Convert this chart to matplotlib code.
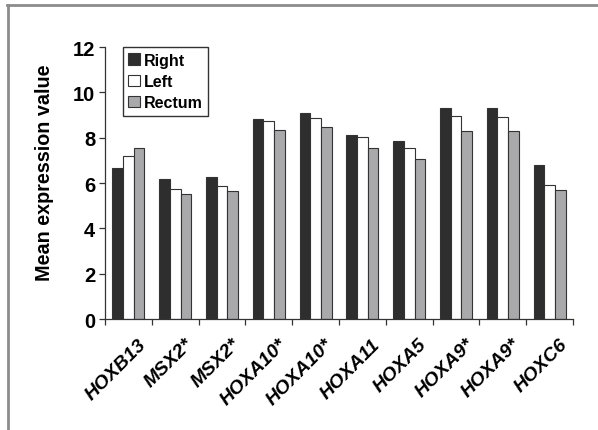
import matplotlib
matplotlib.use("Agg")
import matplotlib.pyplot as plt
from matplotlib.lines import Line2D
from matplotlib import transforms
import numpy as np

genes = ["HOXB13", "MSX2*", "MSX2*", "HOXA10*", "HOXA10*", "HOXA11",
         "HOXA5", "HOXA9*", "HOXA9*", "HOXC6"]
right = [6.66, 6.19, 6.26, 8.81, 9.09, 8.10, 7.85, 9.29, 9.29, 6.81]
left = [7.19, 5.75, 5.87, 8.75, 8.88, 8.02, 7.56, 8.94, 8.92, 5.90]
rectum = [7.53, 5.51, 5.66, 8.34, 8.49, 7.53, 7.06, 8.29, 8.31, 5.69]
series_names = ["Right", "Left", "Rectum"]
yticks = [0, 2, 4, 6, 8, 10, 12]

FONT = "Liberation Sans"
plt.rcParams["font.family"] = [FONT, "DejaVu Sans"]

fig = plt.figure(figsize=(5.98, 4.31), dpi=100)
ax = fig.add_axes([0.1756, 0.2575, 0.7826, 0.6311])

x = np.arange(len(genes))
w = 0.228
colors = ["#2e2e2e", "#ffffff", "#a9a9ab"]
for i, (vals, c) in enumerate(zip([right, left, rectum], colors)):
    ax.bar(x + (i - 1) * w, vals, width=w, color=c, edgecolor="#333333",
           linewidth=0.8, label=series_names[i], zorder=2)

ax.set_xlim(-0.5, len(genes) - 0.5)
ax.set_ylim(0, 12)
ax.set_yticks(yticks)
ax.set_yticklabels([str(t) for t in yticks], fontsize=14.5, fontweight="bold")

ax.set_xticks(x)
ax.set_xticks(np.arange(-0.5, len(genes), 1.0), minor=True)
ax.tick_params(axis="x", which="major", length=0, pad=16)
ax.tick_params(axis="x", which="minor", length=4, width=0.9, color="#333333")
ax.tick_params(axis="y", length=4, width=0.9, color="#333333", pad=3)

offset = transforms.ScaledTranslation(15 / 100, 0, fig.dpi_scale_trans)
labels = ax.set_xticklabels(genes, rotation=45, ha="right", va="center",
                            rotation_mode="anchor", fontsize=14,
                            fontweight="bold", fontstyle="italic")
for lab in labels:
    lab.set_transform(lab.get_transform() + offset)

ax.set_ylabel("Mean expression value", fontsize=14.2, fontweight="bold")
ax.yaxis.set_label_coords(-0.11, 0.54)

for s in ["top", "right"]:
    ax.spines[s].set_visible(False)
for s in ["left", "bottom"]:
    ax.spines[s].set_linewidth(0.9)
    ax.spines[s].set_color("#333333")

leg = ax.legend(loc="upper left", bbox_to_anchor=(0.038, 1.0), borderaxespad=0,
                fancybox=False, frameon=True, edgecolor="black",
                prop={"family": FONT, "weight": "bold", "size": 11.5},
                handlelength=0.7, handleheight=0.7, handletextpad=0.25,
                labelspacing=0.4, borderpad=0.35)
leg.get_frame().set_linewidth(1.0)

# outer frame lines (top and left)
fig.add_artist(Line2D([7 / 598, 1], [1 - 5.7 / 431, 1 - 5.7 / 431],
                      transform=fig.transFigure, color="#8c8c8c", linewidth=2))
fig.add_artist(Line2D([8 / 598, 8 / 598], [0, 1 - 5.7 / 431],
                      transform=fig.transFigure, color="#8c8c8c", linewidth=2))

fig.savefig("out.png", dpi=100)
